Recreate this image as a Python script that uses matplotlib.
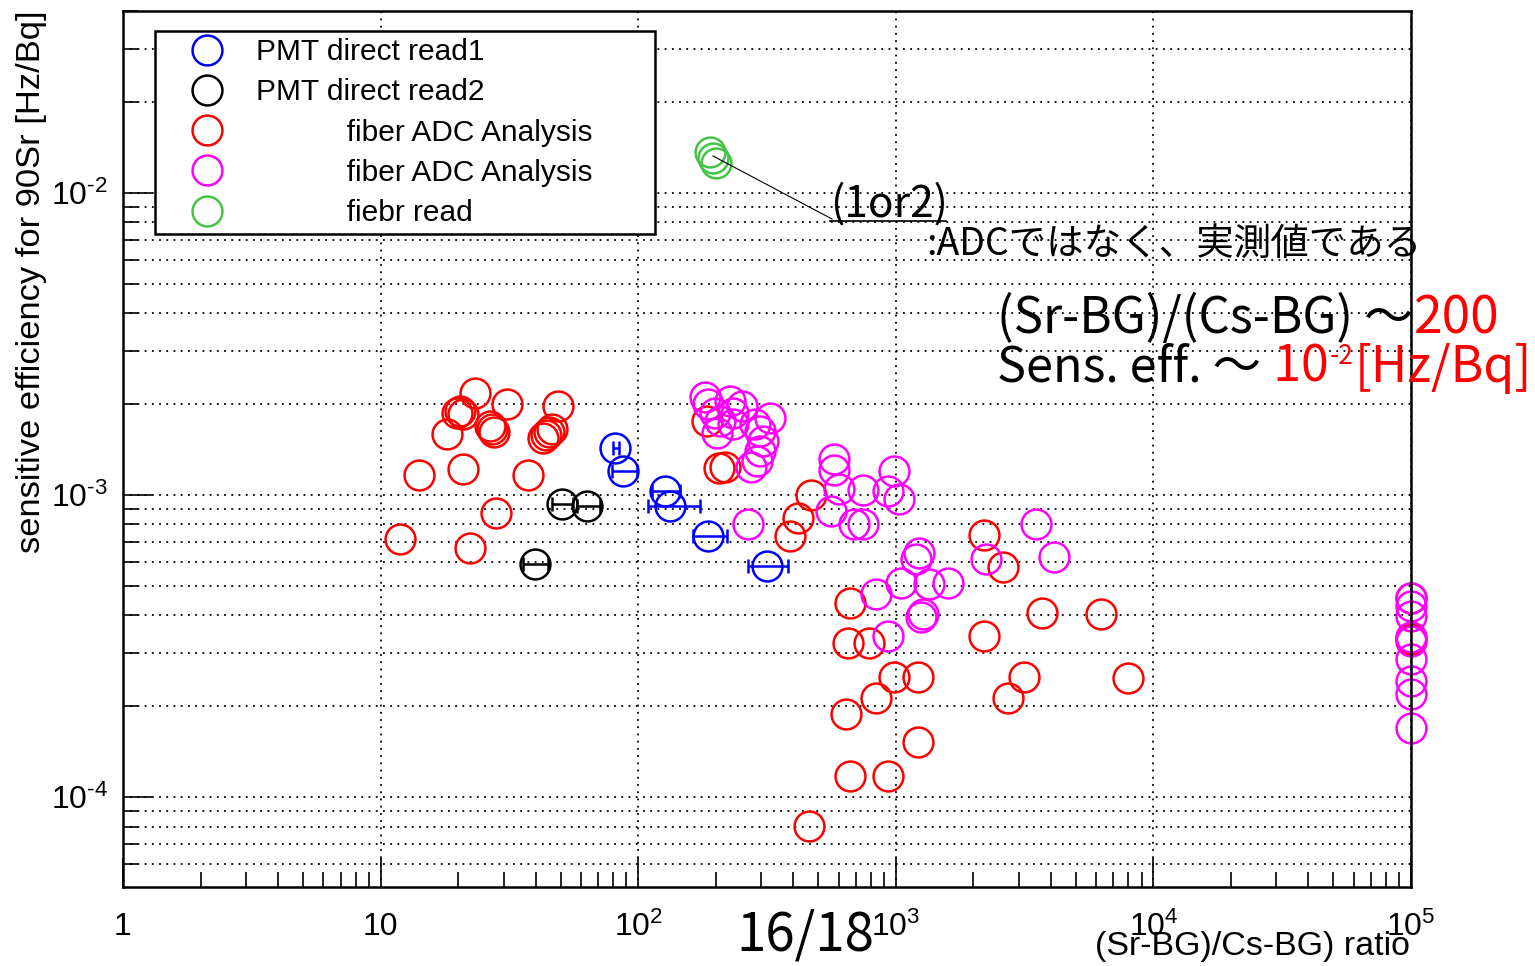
import matplotlib
matplotlib.use('Agg')
import matplotlib.pyplot as plt
from matplotlib.lines import Line2D
from matplotlib.ticker import FixedLocator, FixedFormatter, LogLocator, NullFormatter

plt.rcParams['font.family'] = ['Liberation Sans', 'DejaVu Sans']
plt.rcParams['mathtext.fontset'] = 'custom'
plt.rcParams['mathtext.rm'] = 'Liberation Sans'
plt.rcParams['mathtext.default'] = 'regular'

# ---------------- data ----------------
pmt1_x = [81.5, 87.6, 127.6, 133.4, 187.4, 317.6]
pmt1_y = [1.43e-3, 1.20e-3, 1.03e-3, 9.2e-4, 7.32e-4, 5.82e-4]
pmt1_xlo = [79.5, 79.4, 113.5, 109.5, 163.9, 268.0]
pmt1_xhi = [84.0, 99.3, 145.9, 174.4, 222.0, 383.0]

pmt2_x = [50.8, 63.5, 39.9]
pmt2_y = [9.34e-4, 9.2e-4, 5.91e-4]
pmt2_xlo = [46.4, 58.0, 35.8]
pmt2_xhi = [56.0, 71.3, 44.8]

fiber1_x = [23.3, 20.4, 19.8, 20.9, 31.0, 18.1, 26.7, 27.1, 27.6, 49.0,
            42.8, 44.0, 45.2, 46.4, 14.1, 20.9, 37.4, 28.1, 11.9, 22.3,
            185.7, 205, 218, 467, 419, 387, 662, 650, 784, 980,
            1215, 835, 638, 1215, 667, 929, 459, 2193, 2600, 3685,
            6248, 2193, 3138, 2720, 7955, 1e5, 1e5]
fiber1_y = [2.17e-3, 1.90e-3, 1.87e-3, 1.86e-3, 2.0e-3, 1.59e-3, 1.69e-3, 1.65e-3, 1.62e-3, 1.97e-3,
            1.54e-3, 1.58e-3, 1.62e-3, 1.65e-3, 1.17e-3, 1.22e-3, 1.17e-3, 8.72e-4, 7.15e-4, 6.68e-4,
            1.76e-3, 1.23e-3, 1.24e-3, 1.0e-3, 8.39e-4, 7.32e-4, 4.40e-4, 3.24e-4, 3.24e-4, 2.50e-4,
            2.50e-4, 2.13e-4, 1.89e-4, 1.53e-4, 1.18e-4, 1.18e-4, 8.05e-5, 7.37e-4, 5.78e-4, 4.07e-4,
            4.04e-4, 3.42e-4, 2.5e-4, 2.13e-4, 2.48e-4, 4.57e-4, 3.34e-4]

fiber2_x = [182, 187, 228, 199.5, 234, 203, 234, 326, 285, 298,
            304, 298, 290, 273, 208, 254, 266, 573, 573, 600,
            743, 980, 929, 1025, 558, 686, 743, 1226, 1194, 1044,
            1341, 1589, 835, 1271, 1250, 929, 2234, 3492, 4104,
            1e5, 1e5, 1e5, 1e5, 1e5, 1e5, 1e5, 1e5, 1e5]
fiber2_y = [2.12e-3, 2.01e-3, 2.05e-3, 1.87e-3, 1.87e-3, 1.60e-3, 1.72e-3, 1.80e-3, 1.72e-3, 1.63e-3,
            1.51e-3, 1.40e-3, 1.30e-3, 1.24e-3, 1.76e-3, 1.97e-3, 8.02e-4, 1.32e-3, 1.21e-3, 1.05e-3,
            1.04e-3, 1.20e-3, 1.03e-3, 9.7e-4, 8.85e-4, 8.02e-4, 8.02e-4, 6.43e-4, 6.14e-4, 5.12e-4,
            5.08e-4, 5.12e-4, 4.71e-4, 4.04e-4, 3.95e-4, 3.42e-4, 6.14e-4, 8.02e-4, 6.24e-4,
            4.57e-4, 4.30e-4, 3.98e-4, 3.39e-4, 3.29e-4, 2.87e-4, 2.43e-4, 2.20e-4, 1.70e-4]

fread_x = [190.8, 196, 201]
fread_y = [1.37e-2, 1.31e-2, 1.26e-2]

legend_labels = ['PMT direct read1', 'PMT direct read2',
                 '           fiber ADC Analysis', '           fiber ADC Analysis',
                 '           fiebr read']
x_ticks = [1, 10, 100, 1000, 10000, 100000]
x_ticklabels = ['1', '10', '$10^{2}$', '$10^{3}$', '$10^{4}$', '$10^{5}$']
y_ticks = [1e-4, 1e-3, 1e-2]
y_ticklabels = ['$10^{\\text{-}4}$', '$10^{\\text{-}3}$', '$10^{\\text{-}2}$']

# ---------------- figure ----------------
W, H = 1535, 966
fig = plt.figure(figsize=(W / 100, H / 100), dpi=100)
ax = fig.add_axes([123 / W, 1 - 887 / H, (1411 - 123) / W, (887 - 11) / H])
ax.set_xscale('log')
ax.set_yscale('log')
ax.set_xlim(1, 1e5)
ax.set_ylim(5.05e-5, 4.0e-2)

ms = 21.5
mew = 1.8
blue, black, red, mag, green = '#0000ff', '#000000', '#ff0000', '#ff00ff', '#44c444'

def xerr(x, lo, hi):
    return [[a - b for a, b in zip(x, lo)], [c - a for a, c in zip(x, hi)]]

ax.errorbar(pmt1_x, pmt1_y, xerr=xerr(pmt1_x, pmt1_xlo, pmt1_xhi), fmt='o', ms=ms, mfc='none',
            mec=blue, mew=mew, ecolor=blue, elinewidth=1.8, capsize=5, capthick=1.8, clip_on=False)
ax.errorbar(pmt2_x, pmt2_y, xerr=xerr(pmt2_x, pmt2_xlo, pmt2_xhi), fmt='o', ms=ms, mfc='none',
            mec=black, mew=mew, ecolor=black, elinewidth=1.8, capsize=5, capthick=1.8, clip_on=False)
ax.plot(fiber1_x, fiber1_y, 'o', ms=ms, mfc='none', mec=red, mew=mew, clip_on=False)
ax.plot(fiber2_x, fiber2_y, 'o', ms=ms, mfc='none', mec=mag, mew=mew, clip_on=False)
ax.plot(fread_x, fread_y, 'o', ms=ms, mfc='none', mec=green, mew=mew, clip_on=False)

# axes styling
ax.xaxis.set_major_locator(FixedLocator(x_ticks))
ax.xaxis.set_major_formatter(FixedFormatter(x_ticklabels))
ax.xaxis.set_minor_locator(LogLocator(base=10, subs=range(2, 10), numticks=20))
ax.xaxis.set_minor_formatter(NullFormatter())
ax.yaxis.set_major_locator(FixedLocator(y_ticks))
ax.yaxis.set_major_formatter(FixedFormatter(y_ticklabels))
ax.yaxis.set_minor_locator(LogLocator(base=10, subs=range(2, 10), numticks=20))
ax.yaxis.set_minor_formatter(NullFormatter())

ax.tick_params(which='both', direction='in', top=False, right=False, color='black', width=1.2)
ax.tick_params(axis='x', which='major', length=21, pad=18, labelsize=23)
ax.tick_params(axis='x', which='minor', length=11)
ax.tick_params(axis='y', which='major', length=21, pad=11, labelsize=23)
ax.tick_params(axis='y', which='minor', length=11)
for s in ax.spines.values():
    s.set_linewidth(1.8)

dot = (0, (1, 3))
ax.grid(True, axis='x', which='major', color='black', linestyle=dot, linewidth=1.3)
ax.grid(True, axis='y', which='both', color='black', linestyle=dot, linewidth=1.3)
ax.set_axisbelow(True)

# legend
handles = [Line2D([], [], ls='none', marker='o', ms=ms, mfc='none', mec=c, mew=mew)
           for c in (blue, black, red, mag, green)]
leg = ax.legend(handles, legend_labels, loc='upper left',
                bbox_to_anchor=(155 / W, 1 - 230 / H, 500 / W, 199 / H), bbox_transform=fig.transFigure,
                mode='expand', fontsize=21.5, frameon=True, fancybox=False, borderpad=0.24,
                handlelength=3.0, handletextpad=0.15, labelspacing=0.41, borderaxespad=0)
leg.get_frame().set_edgecolor('black')
leg.get_frame().set_linewidth(1.8)
leg.get_frame().set_alpha(1)

# axis titles (ROOT style)
fig.text(32 / W, 1 - 10 / H, 'sensitive efficiency for 90Sr [Hz/Bq]', rotation=90,
         ha='center', va='top', fontsize=24.8)
fig.text(1410 / W, 1 - 946 / H, '(Sr-BG)/Cs-BG) ratio', ha='right', va='center', fontsize=24.5)

# slide overlays
jp = ['Noto Sans CJK JP', 'DejaVu Sans']
fig.add_artist(Line2D([713 / W, 832 / W], [1 - 156 / H, 1 - 219 / H], color='black', lw=0.8))
fig.add_artist(Line2D([830 / W, 946 / W], [1 - 221 / H, 1 - 221 / H], color='black', lw=1.2))
fig.text(830 / W, 1 - 205 / H, '(1or2)', family=jp, fontsize=30.5, ha='left', va='center')
fig.text(926 / W, 1 - 244 / H, ':ADCではなく、実測値である', family=jp, fontsize=27, ha='left', va='center')

fig.canvas.draw()
renderer = fig.canvas.get_renderer()


def chain(parts, x0, y0):
    """Place consecutive text pieces left to right, each starting where the last ended."""
    x = x0
    for txt, size, color, dy in parts:
        t = fig.text(x / W, 1 - (y0 - dy) / H, txt, family=jp, fontsize=size, color=color,
                     ha='left', va='center')
        bb = t.get_window_extent(renderer)
        x = bb.x1 + 1


chain([('(Sr-BG)/(Cs-BG) ～', 35.5, 'black', 0), ('200', 37, 'red', 0)], 997, 319)
chain([('Sens. eff. ～', 35, 'black', 0), (' 10', 36, 'red', 0),
       ('-2', 19, 'red', 12), ('[Hz/Bq]', 36, 'red', 0)], 997, 368)
fig.text(805 / W, 1 - 935 / H, '16/18', family=jp, fontsize=38, ha='center', va='center')

fig.savefig('out.png', dpi=100)
